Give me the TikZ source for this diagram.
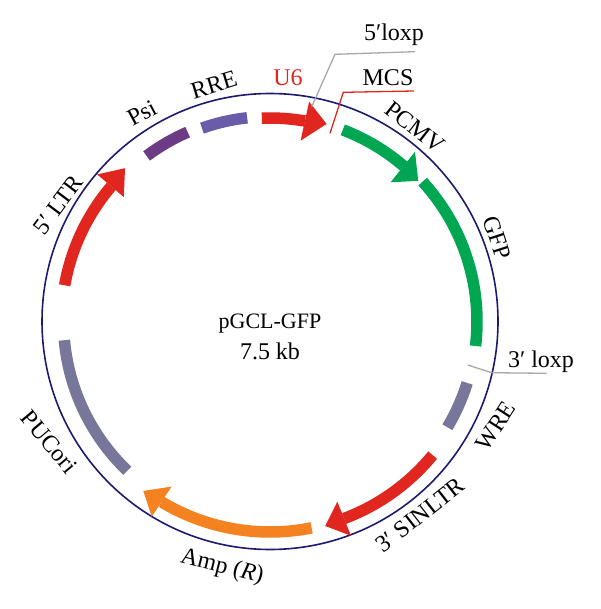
\documentclass[tikz,border=0pt]{standalone}
\usepackage{fontspec}
\setmainfont{Liberation Serif}
\usetikzlibrary{positioning}
\definecolor{ringblue}{HTML}{1C1A6E}
\definecolor{ltrred}{HTML}{E1251F}
\definecolor{gfpgreen}{HTML}{00A651}
\definecolor{amporange}{HTML}{F58220}
\definecolor{psipurple}{HTML}{6D3A85}
\definecolor{rreblue}{HTML}{6A5CA8}
\definecolor{oriGray}{HTML}{77779C}
\definecolor{leadgray}{HTML}{A8A8A8}
\begin{document}
\begin{tikzpicture}[x=1pt,y=1pt]
% STYLES
\tikzset{%
    band/.style={line width=11.5pt},
    label/.style={inner sep=0pt,font=\fontsize{24}{28}\selectfont},
    leader/.style={line width=1.3pt}
}
\useasboundingbox (0,0) rectangle (600,-609);
\begin{scope}[shift={(270,-321.5)}]
% Draw ring
\draw[ringblue,line width=1.6pt] (0,0) circle (228);
% Draw segments
\draw[band,ltrred] (170:208.5) arc[start angle=170,end angle=139.6,radius=208.5];
\fill[ltrred] (139.6:227) -- (133.4:211) -- (139.6:192) -- cycle;
\draw[band,psipurple] (126.7:206.5) arc[start angle=126.7,end angle=113.5,radius=206.5];
\draw[band,rreblue] (109.4:205) arc[start angle=109.4,end angle=96.4,radius=205];
\draw[band,ltrred] (92.3:203.5) arc[start angle=92.3,end angle=80.1,radius=203.5];
\fill[ltrred] (79.9:223.3) -- (74:205.5) -- (80.4:183.4) -- cycle;
\draw[band,gfpgreen] (69.2:205) arc[start angle=69.2,end angle=49.3,radius=205];
\fill[gfpgreen] (49.5:223.3) -- (43.5:204.3) -- (49.1:184.2) -- cycle;
\draw[band,gfpgreen] (42.5:207) arc[start angle=42.5,end angle=-6.8,radius=207];
\draw[band,oriGray] (-17.3:206.5) arc[start angle=-17.3,end angle=-30.8,radius=206.5];
\draw[band,ltrred] (-39.4:210.5) arc[start angle=-39.4,end angle=-69.4,radius=210.5];
\fill[ltrred] (-69.5:192.4) -- (-74.9:211.8) -- (-69.3:229) -- cycle;
\draw[band,amporange] (-78.6:210.5) arc[start angle=-78.6,end angle=-121,radius=210.5];
\fill[amporange] (239.2:192.2) -- (233.2:211.6) -- (238.8:228.2) -- cycle;
\draw[band,oriGray] (185.2:206.5) arc[start angle=185.2,end angle=226.3,radius=206.5];
\end{scope}
% Draw labels
\node[label,align=center] (name) at (270,-337) {{\fontsize{22}{30}\selectfont pGCL-GFP}\\[3pt]7.5 kb};
\node[label,text=ltrred] (u6) at (288,-78) {U6};
\node[label] (loxpa) at (394,-35) {5′loxp};
\node[label] (mcs) at (388,-78) {MCS};
\node[label,rotate=-38] (pcmv) at (415,-127) {PCMV};
\node[label,rotate=-72] (gfp) at (497,-238) {GFP};
\node[label] (loxpb) at (541,-362) {3′ loxp};
\node[label,rotate=57] (wre) at (496,-426) {WRE};
\node[label,rotate=38] (sinltr) at (420,-515) {3′ SINLTR};
\node[label,rotate=-14] (amp) at (222,-567) {Amp (\textit{R})};
\node[label,rotate=-50] (puc) at (49,-442) {PUCori};
\node[label,rotate=53] (ltr) at (58,-205) {5′ LTR};
\node[label,rotate=28] (psi) at (142,-113) {Psi};
\node[label,rotate=17] (rre) at (214,-85) {RRE};
% Draw the leaders
\coordinate (loxpaend) at (415,-51.7);
\coordinate (loxpaknee) at (335,-54.3);
\coordinate (loxpatip) at (311.7,-106.7);
\coordinate (mcsend) at (414,-91);
\coordinate (mcsknee) at (343.3,-92.3);
\coordinate (mcstip) at (330,-133.3);
\coordinate (loxpbend) at (546.7,-373.3);
\coordinate (loxpbknee) at (491.7,-372.7);
\coordinate (loxpbtip) at (467.7,-365);
\draw[leader,leadgray] (loxpaend) -- (loxpaknee) -- (loxpatip);
\draw[leader,ltrred] (mcsend) -- (mcsknee) -- (mcstip);
\draw[leader,leadgray] (loxpbend) -- (loxpbknee) -- (loxpbtip);
\end{tikzpicture}
\end{document}
